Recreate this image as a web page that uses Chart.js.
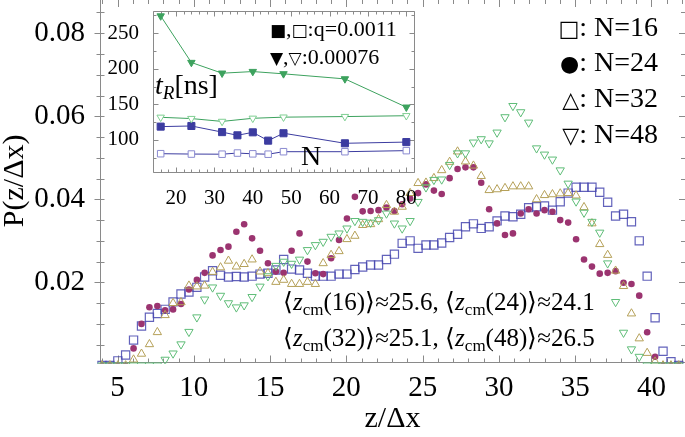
<!DOCTYPE html>
<html>
<head>
<meta charset="utf-8">
<script src="https://cdn.jsdelivr.net/npm/chart.js@4.4.0/dist/chart.umd.min.js"></script>
<style>
  html, body { margin: 0; padding: 0; background: #fff; }
  #wrap { position: relative; width: 685px; height: 437px; overflow: hidden; }
  #mainChart { position: absolute; left: 0; top: 0; }
  #insetChart { position: absolute; left: 100px; top: 0; }
</style>
</head>
<body>
<div id="wrap">
  <canvas id="mainChart" width="685" height="437"></canvas>
  <canvas id="insetChart" width="330" height="205"></canvas>
</div>
<script>
// bin positions z/dx shared by the four histograms
const zBins = [3.98, 4.50, 5.02, 5.53, 6.05, 6.57, 7.09, 7.61, 8.12, 8.64,
  9.16, 9.68, 10.20, 10.71, 11.23, 11.75, 12.27, 12.79, 13.30, 13.82,
  14.34, 14.86, 15.38, 15.89, 16.41, 16.93, 17.45, 17.97, 18.48, 19.00,
  19.52, 20.04, 20.56, 21.07, 21.59, 22.11, 22.63, 23.15, 23.66, 24.18,
  24.70, 25.22, 25.74, 26.25, 26.77, 27.29, 27.81, 28.33, 28.84, 29.36,
  29.88, 30.40, 30.92, 31.43, 31.95, 32.47, 32.99, 33.51, 34.02, 34.54,
  35.06, 35.58, 36.10, 36.61, 37.13, 37.65, 38.17, 38.69, 39.20, 39.72,
  40.24, 40.76, 41.28, 41.79];

const pN16 = [0, 0, 0.0011, 0.0025, 0.0061, 0.0095, 0.0116, 0.0125, 0.0135, 0.0153,
  0.0172, 0.0177, 0.0188, 0.0213, 0.0228, 0.0217, 0.0213, 0.0214, 0.0213, 0.0215,
  0.0220, 0.0222, 0.0230, 0.0255, 0.0232, 0.0230, 0.0222, 0.0215, 0.0215, 0.0215,
  0.0220, 0.0220, 0.0231, 0.0237, 0.0242, 0.0242, 0.0255, 0.0268, 0.0294, 0.0300,
  0.0282, 0.0290, 0.0290, 0.0295, 0.0308, 0.0316, 0.0334, 0.0341, 0.0330, 0.0334,
  0.0348, 0.0360, 0.0358, 0.0364, 0.0380, 0.0382, 0.0384, 0.0374, 0.0394, 0.0415,
  0.0429, 0.0429, 0.0429, 0.0417, 0.0393, 0.0360, 0.0364, 0.0346, 0.0300, 0.0215,
  0.0115, 0.0034, 0.0009, 0];

const pN24 = [0, 0, 0, 0, 0.0041, 0.0100, 0.0140, 0.0143, 0.0133, 0.0135,
  0.0148, 0.0183, 0.0206, 0.0223, 0.0265, 0.0278, 0.0286, 0.0322, 0.0340, 0.0306,
  0.0276, 0.0246, 0.0226, 0.0223, 0.0276, 0.0318, 0.0250, 0.0222, 0.0220, 0.0258,
  0.0302, 0.0354, 0.0406, 0.0371, 0.0372, 0.0374, 0.0380, 0.0372, 0.0388, 0.0402,
  0.0415, 0.0436, 0.0421, 0.0413, 0.0451, 0.0473, 0.0477, 0.0477, 0.0440, 0.0376,
  0.0342, 0.0314, 0.0318, 0.0366, 0.0376, 0.0366, 0.0374, 0.0370, 0.0350, 0.0344,
  0.0304, 0.0255, 0.0238, 0.0221, 0.0223, 0.0227, 0.0199, 0.0196, 0.0168, 0.0080,
  0.0021, 0, 0, 0];

const pN32 = [0, 0, 0, 0, 0.0014, 0.0028, 0.0051, 0.0080, 0.0121, 0.0150,
  0.0152, 0.0192, 0.0190, 0.0192, 0.0225, 0.0236, 0.0252, 0.0238, 0.0244, 0.0255,
  0.0226, 0.0222, 0.0201, 0.0206, 0.0196, 0.0196, 0.0201, 0.0196, 0.0246, 0.0266,
  0.0275, 0.0304, 0.0312, 0.0338, 0.0340, 0.0352, 0.0386, 0.0370, 0.0382, 0.0415,
  0.0439, 0.0440, 0.0451, 0.0470, 0.0490, 0.0515, 0.0491, 0.0481, 0.0456, 0.0422,
  0.0424, 0.0427, 0.0431, 0.0431, 0.0431, 0.0400, 0.0410, 0.0412, 0.0414, 0.0415,
  0.0409, 0.0381, 0.0342, 0.0292, 0.0266, 0.0228, 0.0191, 0.0125, 0.0065, 0.0030,
  0.0009, 0, 0, 0];

const pN48 = [0, 0, 0, 0, 0, 0, 0, 0, 0.0014, 0.0029,
  0.0051, 0.0081, 0.0116, 0.0159, 0.0188, 0.0168, 0.0150, 0.0140, 0.0145, 0.0165,
  0.0190, 0.0215, 0.0240, 0.0250, 0.0245, 0.0255, 0.0278, 0.0290, 0.0298, 0.0310,
  0.0318, 0.0330, 0.0348, 0.0346, 0.0344, 0.0350, 0.0366, 0.0342, 0.0330, 0.0348,
  0.0394, 0.0429, 0.0447, 0.0448, 0.0483, 0.0511, 0.0511, 0.0537, 0.0545, 0.0535,
  0.0561, 0.0598, 0.0625, 0.0610, 0.0585, 0.0523, 0.0508, 0.0496, 0.0470, 0.0438,
  0.0395, 0.0368, 0.0346, 0.0320, 0.0246, 0.0153, 0.0079, 0.0039, 0.0021, 0,
  0, 0, 0, 0];

const xTicks = [5, 10, 15, 20, 25, 30, 35, 40];
const yTicks = [0.02, 0.04, 0.06, 0.08];

// inset: relaxation time t_R [ns] vs N
const insetNsq = [16, 24, 32, 36, 40, 44, 48, 64, 80];
const tRsqFilled = [118.7, 119.6, 111, 106.5, 110.7, 99, 109.4, 95.3, 97];
const tRsqOpen = [80.7, 80.2, 80, 81.6, 80.5, 80, 83.5, 83.5, 85];
const insetNtri = [16, 24, 32, 40, 48, 64, 80];
const tRtriFilled = [274, 208.7, 193.7, 196, 192.8, 185.7, 146];
const tRtriOpen = [131.8, 130, 126, 130.4, 132, 132.8, 134];
const insetXTicks = [20, 30, 40, 50, 60, 70, 80];
const insetYTicks = [100, 150, 200, 250];

const serif = "'Liberation Serif', serif";
const frameColor = "#8a8a8a";
const colN16 = "rgba(70, 70, 175, 0.85)";
const colN24 = "#9b3470";
const colN32 = "#b5a058";
const colN48 = "#5fbd78";
const colBlue = "#3c3ca0";
const colGreen = "#3da25e";

function toPoints(xs, ys) {
  return xs.map((x, i) => ({ x: x, y: ys[i] }));
}

// draw a row of text pieces (font changes, subscripts)
function drawRuns(ctx, x, y, runs, align) {
  let total = 0;
  runs.forEach((r) => {
    ctx.font = r.font;
    r.w = ctx.measureText(r.t).width;
    total += r.w;
  });
  let cx = align === "right" ? x - total : x;
  runs.forEach((r) => {
    ctx.font = r.font;
    ctx.fillText(r.t, cx, y + (r.dy || 0));
    cx += r.w;
  });
}

function tickLine(ctx, x1, y1, x2, y2) {
  ctx.moveTo(x1, y1);
  ctx.lineTo(x2, y2);
}

// chart.js keeps room for half a label at the ends, we don't want that here
function noPad(s) {
  s.paddingTop = 0;
  s.paddingBottom = 0;
  s.paddingLeft = 0;
  s.paddingRight = 0;
}

const mainFrame = {
  id: "mainFrame",
  beforeDatasetsDraw(chart) {
    const { ctx, chartArea: a, scales } = chart;
    const sx = scales.x, sy = scales.y;
    ctx.save();
    ctx.strokeStyle = frameColor;
    ctx.lineWidth = 1;
    ctx.beginPath();
    const bl = Math.round(a.bottom) + 0.5;
    const lf = Math.round(a.left) + 0.5;
    tickLine(ctx, lf, a.top, lf, bl);
    tickLine(ctx, lf, bl, a.right, bl);
    for (let v = 4; v <= 42; v++) {
      const px = Math.round(sx.getPixelForValue(v)) + 0.5;
      const len = v % 5 === 0 ? 7 : 4;
      tickLine(ctx, px, bl, px, bl - len);
      tickLine(ctx, px, a.top, px, a.top + len);
    }
    for (let i = 1; i <= 17; i++) {
      const py = Math.round(sy.getPixelForValue(i * 0.005)) + 0.5;
      const len = i % 4 === 0 ? 6 : 4;
      tickLine(ctx, lf - len, py, lf + 4, py);
      tickLine(ctx, a.right, py, a.right - len, py);
    }
    ctx.stroke();
    ctx.restore();
  },
  afterDraw(chart) {
    const ctx = chart.ctx;
    ctx.save();
    ctx.fillStyle = "#000";
    ctx.textBaseline = "alphabetic";
    // legend
    const lf = "28px " + serif;
    const sym = "22px 'DejaVu Sans', sans-serif";
    drawRuns(ctx, 658, 36, [{ t: "□", font: sym }, { t: ": N=16", font: lf }], "right");
    drawRuns(ctx, 658, 71, [{ t: "●", font: sym }, { t: ": N=24", font: lf }], "right");
    drawRuns(ctx, 658, 107, [{ t: "△", font: sym }, { t: ": N=32", font: lf }], "right");
    drawRuns(ctx, 658, 143, [{ t: "▽", font: sym }, { t: ": N=48", font: lf }], "right");
    // mean positions
    const nf = "25px " + serif;
    const itf = "italic 25px " + serif;
    const sf = "17px " + serif;
    const zc = (n, v, tail) => [
      { t: "⟨", font: nf },
      { t: "z", font: itf },
      { t: "cm", font: sf, dy: 5 },
      { t: "(" + n + ")⟩≈" + v + tail, font: nf }
    ];
    drawRuns(ctx, 283, 310, zc(16, "25.6", ", ").concat(zc(24, "24.1", "")), "left");
    drawRuns(ctx, 283, 346, zc(32, "25.1", ", ").concat(zc(48, "26.5", "")), "left");
    ctx.restore();
  }
};

const clipMain = { left: 10, top: 10, right: 10, bottom: 2 };

new Chart(document.getElementById("mainChart"), {
  type: "scatter",
  data: {
    datasets: [
      {
        label: "N=16",
        data: toPoints(zBins, pN16),
        pointStyle: "rect",
        pointRadius: 5.8,
        borderColor: colN16,
        backgroundColor: "rgba(0,0,0,0)",
        borderWidth: 1.2,
        order: 4,
        clip: clipMain,
      },
      {
        label: "N=24",
        data: toPoints(zBins, pN24),
        pointStyle: "circle",
        pointRadius: 3.3,
        borderColor: colN24,
        backgroundColor: colN24,
        borderWidth: 0,
        order: 3,
        clip: clipMain,
      },
      {
        label: "N=32",
        data: toPoints(zBins, pN32),
        pointStyle: "triangle",
        pointRadius: 4.8,
        borderColor: colN32,
        backgroundColor: "rgba(0,0,0,0)",
        borderWidth: 1,
        order: 2,
        clip: clipMain,
      },
      {
        label: "N=48",
        data: toPoints(zBins, pN48),
        pointStyle: "triangle",
        rotation: 180,
        pointRadius: 4.8,
        borderColor: colN48,
        backgroundColor: "rgba(0,0,0,0)",
        borderWidth: 1,
        order: 1,
        clip: clipMain,
      },
    ],
  },
  options: {
    responsive: false,
    animation: false,
    layout: { padding: 0, autoPadding: false },
    plugins: { legend: { display: false }, tooltip: { enabled: false } },
    scales: {
      x: {
        type: "linear",
        min: 3.85,
        max: 42.2,
        grid: { display: false },
        border: { display: false },
        afterBuildTicks: (s) => { s.ticks = xTicks.map((v) => ({ value: v })); },
        afterFit: (s) => { s.height = 75.3; noPad(s); },
        ticks: {
          font: { family: serif, size: 29 },
          color: "#000",
          padding: 1,
          maxRotation: 0,
          autoSkip: false,
        },
        title: {
          display: true,
          text: "z/Δx",
          font: { family: serif, size: 30 },
          color: "#000",
          padding: { top: 0, bottom: 0 },
        },
      },
      y: {
        type: "linear",
        min: 0.0009,
        max: 0.088,
        grid: { display: false },
        border: { display: false },
        afterBuildTicks: (s) => { s.ticks = yTicks.map((v) => ({ value: v })); },
        afterFit: (s) => { s.width = 100; noPad(s); },
        ticks: {
          font: { family: serif, size: 29 },
          color: "#000",
          padding: 7,
          callback: (v) => v.toFixed(2),
        },
        title: {
          display: true,
          text: "P(z/Δx)",
          font: { family: serif, size: 30, lineHeight: 1 },
          color: "#000",
          padding: { top: 0, bottom: 0 },
        },
      },
    },
  },
  plugins: [mainFrame],
});

const insetFrame = {
  id: "insetFrame",
  beforeDatasetsDraw(chart) {
    const { ctx, chartArea: a, scales } = chart;
    const sx = scales.x, sy = scales.y;
    ctx.save();
    ctx.strokeStyle = frameColor;
    ctx.lineWidth = 1;
    ctx.beginPath();
    const l = Math.round(a.left) + 0.5, r = Math.round(a.right) + 0.5;
    const t = Math.round(a.top) + 0.5, b = Math.round(a.bottom) + 0.5;
    ctx.rect(l, t, r - l, b - t);
    for (let v = 14; v <= 82; v += 2) {
      const px = Math.round(sx.getPixelForValue(v)) + 0.5;
      const len = v % 10 === 0 ? 5 : 3;
      tickLine(ctx, px, b, px, b - len);
      tickLine(ctx, px, t, px, t + len);
    }
    for (let v = 75; v <= 275; v += 25) {
      const py = Math.round(sy.getPixelForValue(v)) + 0.5;
      const len = v % 50 === 0 ? 5 : 3;
      tickLine(ctx, l, py, l + len, py);
      tickLine(ctx, r, py, r - len, py);
    }
    ctx.stroke();
    ctx.restore();
  },
  afterDraw(chart) {
    const ctx = chart.ctx;
    ctx.save();
    ctx.fillStyle = "#000";
    ctx.textBaseline = "alphabetic";
    const f = "22px " + serif;
    const sym = "17px 'DejaVu Sans', sans-serif";
    drawRuns(ctx, 170, 36, [
      { t: "■", font: sym }, { t: ",", font: f }, { t: "□", font: sym },
      { t: ":q=0.0011", font: f }
    ], "left");
    drawRuns(ctx, 170, 64, [
      { t: "▼", font: sym }, { t: ",", font: f }, { t: "▽", font: sym },
      { t: ":0.00076", font: f }
    ], "left");
    drawRuns(ctx, 55, 94, [
      { t: "t", font: "italic 28px " + serif },
      { t: "R", font: "italic 19px " + serif, dy: 5 },
      { t: "[ns]", font: "28px " + serif }
    ], "left");
    ctx.font = "28px " + serif;
    ctx.fillText("N", 201, 165);
    ctx.restore();
  }
};

new Chart(document.getElementById("insetChart"), {
  type: "scatter",
  data: {
    datasets: [
      {
        data: toPoints(insetNtri, tRtriFilled),
        showLine: true,
        borderColor: colGreen,
        borderWidth: 1,
        pointStyle: "triangle",
        rotation: 180,
        pointRadius: 4.3,
        pointBackgroundColor: colGreen,
        pointBorderColor: colGreen,
      },
      {
        data: toPoints(insetNtri, tRtriOpen),
        showLine: true,
        borderColor: colGreen,
        borderWidth: 1,
        pointStyle: "triangle",
        rotation: 180,
        pointRadius: 4.3,
        pointBackgroundColor: "#fff",
        pointBorderColor: "#7fcf92",
      },
      {
        data: toPoints(insetNsq, tRsqFilled),
        showLine: true,
        borderColor: colBlue,
        borderWidth: 1,
        pointStyle: "rect",
        pointRadius: 5,
        pointBackgroundColor: colBlue,
        pointBorderColor: colBlue,
      },
      {
        data: toPoints(insetNsq, tRsqOpen),
        showLine: true,
        borderColor: colBlue,
        borderWidth: 1,
        pointStyle: "rect",
        pointRadius: 4.6,
        pointBackgroundColor: "#fff",
        pointBorderColor: "#8a8ad0",
      },
    ],
  },
  options: {
    responsive: false,
    animation: false,
    layout: { padding: { top: 11, right: 16, left: 0, bottom: 0 }, autoPadding: false },
    plugins: { legend: { display: false }, tooltip: { enabled: false } },
    scales: {
      x: {
        type: "linear",
        min: 14,
        max: 82,
        grid: { display: false },
        border: { display: false },
        afterBuildTicks: (s) => { s.ticks = insetXTicks.map((v) => ({ value: v })); },
        afterFit: (s) => { s.height = 33; noPad(s); },
        ticks: { font: { family: serif, size: 21 }, color: "#000", padding: 6, maxRotation: 0, autoSkip: false },
      },
      y: {
        type: "linear",
        min: 55,
        max: 281,
        grid: { display: false },
        border: { display: false },
        afterBuildTicks: (s) => { s.ticks = insetYTicks.map((v) => ({ value: v })); },
        afterFit: (s) => { s.width = 53; noPad(s); },
        ticks: { font: { family: serif, size: 21 }, color: "#000", padding: 6 },
      },
    },
  },
  plugins: [insetFrame],
});
</script>
</body>
</html>
